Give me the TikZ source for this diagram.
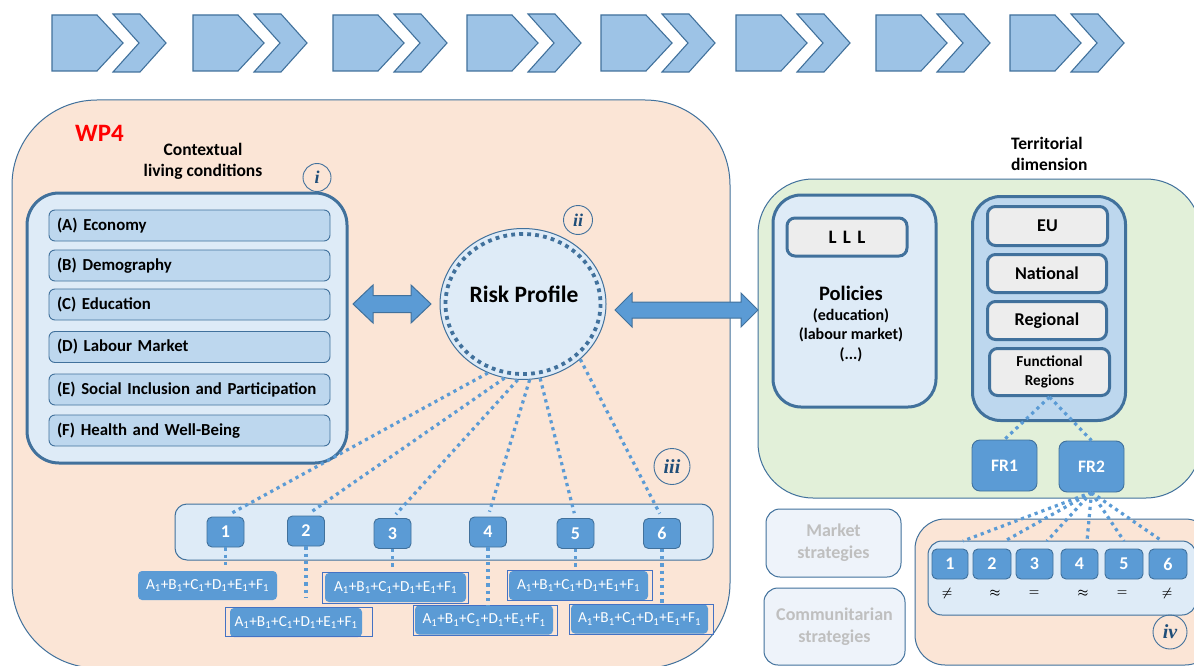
\documentclass[tikz,border=0pt]{standalone}
\usepackage{fontspec}
\setmainfont{Carlito}
\newfontfamily\numeralfont{Liberation Serif}
\usetikzlibrary{shapes.geometric,calc}
\definecolor{boxline}{HTML}{41719C}
\definecolor{chevfill}{HTML}{9DC3E6}
\definecolor{panelfill}{HTML}{DEEBF7}
\definecolor{itemfill}{HTML}{BDD7EE}
\definecolor{numfill}{HTML}{5B9BD5}
\definecolor{wpfill}{HTML}{FBE5D6}
\definecolor{greenfill}{HTML}{E2F0D9}
\definecolor{greyfill}{HTML}{EDEDED}
\definecolor{framecol}{HTML}{4472C4}
\definecolor{romantext}{HTML}{1F4E79}
\definecolor{ghosttext}{HTML}{BFBFBF}
\definecolor{ghostfill}{HTML}{EEF3FA}
\newcommand\sumterm{A\textsubscript{1}+B\textsubscript{1}+C\textsubscript{1}+D\textsubscript{1}+E\textsubscript{1}+F\textsubscript{1}}

\begin{document}
\begin{tikzpicture}[x=1pt, y=-1pt,
    chev/.style={fill=chevfill, draw=boxline, line width=1.1pt, line join=miter},
    area/.style={draw=boxline, line width=1pt},
    panel/.style={rectangle, draw=boxline, line width=3pt, fill=panelfill, rounded corners=30pt, inner sep=0},
    item/.style={rectangle, draw=boxline, line width=0.9pt, fill=itemfill, rounded corners=6pt,
        minimum height=31pt, text width=265pt, inner xsep=8pt, inner ysep=0, align=left,
        font=\bfseries\fontsize{16.8}{19}\selectfont},
    level/.style={rectangle, draw=boxline, line width=3pt, fill=greyfill, rounded corners=8pt, inner sep=0,
        align=center, font=\bfseries\fontsize{18}{20}\selectfont},
    numbox/.style={rectangle, draw=boxline, line width=0.9pt, fill=numfill, rounded corners=5pt,
        minimum width=37pt, minimum height=30pt, inner sep=0, text=white,
        font=\bfseries\fontsize{18}{20}\selectfont},
    formula/.style={rectangle, fill=numfill, rounded corners=4pt, minimum height=29pt, inner sep=0,
        text=white, font=\fontsize{15.3}{17}\selectfont},
    framebox/.style={draw=framecol, line width=0.9pt},
    roman/.style={circle, draw=boxline, line width=0.9pt, inner sep=0, text=romantext,
        font=\numeralfont\bfseries\itshape\fontsize{18}{18}\selectfont},
    ghost/.style={rectangle, draw=boxline, line width=1pt, fill=ghostfill, rounded corners=14pt, inner sep=0,
        text=ghosttext, align=center, font=\bfseries\fontsize{18}{22}\selectfont},
    heading/.style={inner sep=0, font=\bfseries\fontsize{17.5}{21}\selectfont},
    dotline/.style={draw=numfill, line width=3.2pt, dash pattern=on 3.2pt off 4pt},
    bigarrow/.style={fill=numfill, draw=boxline, line width=1pt, line join=miter}
]
\useasboundingbox (0,0) rectangle (1194,666);
\clip (0,0) rectangle (1194,666);
\fill[white] (0,0) rectangle (1194,666);

% Process chevrons
\foreach \x in {52,193,333,467,601,736,876,1010} {
    \draw[chev, shift={(\x,0)}] (0,15) -- (45,15) -- (71,43) -- (45,71) -- (0,71) -- cycle;
    \draw[chev, shift={(\x,0)}] (61,14) -- (88,14) -- (114,43) -- (88,72) -- (61,72) -- (87,43) -- cycle;
}

% Work package areas
\draw[area, fill=wpfill, rounded corners=85pt] (12,100) rectangle (730,668);
\draw[area, fill=greenfill, rounded corners=55pt] (758,179) rectangle (1201,498);
\draw[area, fill=wpfill, rounded corners=30pt] (915,519) rectangle (1215,665);

\node[anchor=west, inner sep=0, text=red, font=\bfseries\fontsize{25}{25}\selectfont] (wp) at (75,133) {WP4};
\node[heading, align=center] (ctxhead) at (203,161) {Contextual\\living conditions};
\node[heading, align=left, anchor=west] (terrhead) at (1011,153.5) {Territorial\\dimension};

% Contextual living conditions
\node[panel, minimum width=320pt, minimum height=270pt, rounded corners=32pt] (ctx) at (187,328) {};
\foreach \y/\t [count=\i] in {225.5/{(A) Economy}, 265.5/{(B) Demography}, 304.5/{(C) Education},
    347/{(D) Labour Market}, 389.5/{(E) Social Inclusion and Participation}, 430.5/{(F) Health and Well-Being}}
    \node[item] (it\i) at (189.5,\y) {\t};

% Risk profile
\node[ellipse, draw=boxline, line width=1pt, fill=panelfill, minimum width=166pt, minimum height=151pt,
    inner sep=0] (risk) at (523,304) {};
\draw[boxline, line width=3.8pt, dash pattern=on 3.8pt off 4.2pt] (risk.center) ellipse [x radius=77.5, y radius=70];
\node[font=\bfseries\fontsize{23.5}{26}\selectfont, inner sep=0] (risktxt) at (524,294) {Risk Profile};

% Double arrows
\draw[bigarrow] (353,304) -- (373,285) -- (373,295.5) -- (411,295.5) -- (411,285) -- (431,304)
    -- (411,323) -- (411,312.5) -- (373,312.5) -- (373,323) -- cycle;
\draw[bigarrow] (615,310) -- (632,293) -- (632,302) -- (741,302) -- (741,293) -- (758,310)
    -- (741,327) -- (741,318) -- (632,318) -- (632,327) -- cycle;

% Profiles
\node[rectangle, draw=boxline, line width=1pt, fill=panelfill, rounded corners=12pt,
    minimum width=538pt, minimum height=56pt] (strip) at (444,532) {};
\foreach \x/\y [count=\n] in {225.5/532, 306/531, 392.5/533.5, 488/532, 575.5/533.5, 662/533.5}
    \node[numbox] (b\n) at (\x,\y) {\n};
\foreach \a/\n in {-117/1,-104/2,-94/3,-85/4,-77/5,-44/6}
    \draw[dotline, shorten >=5pt] (risk.\a) -- (b\n.north);

\node[formula, minimum width=139pt] (f1) at (207.5,585.5) {\sumterm};
\node[formula, minimum width=132pt] (f2) at (296,622.5) {\sumterm};
\node[formula, minimum width=141pt] (f3) at (395.5,587.5) {\sumterm};
\node[formula, minimum width=138pt] (f4) at (484,620) {\sumterm};
\node[formula, minimum width=139pt] (f5) at (578.5,585.5) {\sumterm};
\node[formula, minimum width=137pt] (f6) at (639.5,619) {\sumterm};
\draw[framebox] (225,607) rectangle (372,636);
\draw[framebox] (322,572) rectangle (468,603);
\draw[framebox] (413,605) rectangle (557,635);
\draw[framebox] (507,570) rectangle (652,600);
\draw[framebox] (569,604) rectangle (713,634);
\foreach \n/\s in {1/3pt,2/10pt,3/3pt,4/0pt,5/3pt,6/1pt}
    \draw[dotline, shorten >=\s] (b\n.south) -- (b\n.south |- f\n.north);

% Policies
\node[panel, minimum width=163pt, minimum height=212pt, rounded corners=28pt] (pol) at (854.5,301) {};
\node[level, minimum width=120pt, minimum height=38pt, font=\bfseries\fontsize{19}{20}\selectfont] (lll) at (847,237) {L\,\,L\,\,L};
\node[align=center, inner sep=0, font=\bfseries\fontsize{16}{19.5}\selectfont] (poltxt) at (851,324)
    {{\fontsize{20.5}{22}\selectfont Policies}\\(education)\\(labour market)\\(...)};

% Territorial levels
\node[panel, fill=itemfill, minimum width=153pt, minimum height=224pt, rounded corners=28pt] (terr) at (1049,308.5) {};
\node[level, minimum width=120pt, minimum height=39pt] (eu) at (1047.5,226) {EU};
\node[level, minimum width=119pt, minimum height=38pt] (nat) at (1047,273.5) {National};
\node[level, minimum width=119pt, minimum height=38pt] (reg) at (1047,320.5) {Regional};
\node[level, minimum width=120pt, minimum height=47pt, font=\bfseries\fontsize{15.2}{19}\selectfont]
    (func) at (1049.5,372) {Functional\\Regions};
\node[numbox, minimum width=65pt, minimum height=51pt, rounded corners=8pt,
    font=\bfseries\fontsize{17.5}{18}\selectfont] (fr1) at (1004.5,465.5) {FR1\hspace{8pt}};
\node[numbox, minimum width=65pt, minimum height=51pt, rounded corners=8pt,
    font=\bfseries\fontsize{17.5}{18}\selectfont] (fr2) at (1091.5,466.5) {FR2\hspace{6pt}};
\draw[dotline] (func.south) -- (fr1.north);
\draw[dotline] (func.south) -- (fr2.north);

% Strategies
\node[ghost, minimum width=135pt, minimum height=68pt] (market) at (833.5,543) {Market\\strategies\hspace{10pt}};
\node[ghost, minimum width=141pt, minimum height=77pt] (comm) at (834.5,626.5) {Communitarian\\strategies};

% Regional comparison
\node[rectangle, draw=boxline, line width=1pt, fill=panelfill, rounded corners=14pt,
    minimum width=268pt, minimum height=74pt] (rstrip) at (1062,578) {};
\foreach \x/\w [count=\n] in {950/36, 992/38, 1034.5/37, 1079.5/37, 1124/38, 1168/38}
    \node[numbox, minimum width=\w pt] (s\n) at (\x,564) {\n};
\foreach \x/\s [count=\n] in {947/\neq, 995/\approx, 1034/=, 1083/\approx, 1122/=, 1167/\neq}
    \node[inner sep=0, font=\fontsize{13}{13}\selectfont\boldmath] (q\n) at (\x,593) {$\s$};
\foreach \x [count=\n] in {963,1005,1047,1087,1124,1162}
    \coordinate (t\n) at (\x,541);
\foreach \n in {1,...,6}
    \draw[dotline] (fr2.south) -- (t\n);

% Steps
\node[roman, minimum size=28pt] (r1) at (317,177.5) {i};
\node[roman, minimum size=29pt] (r2) at (578,220) {ii};
\node[roman, minimum size=36pt, font=\numeralfont\bfseries\itshape\fontsize{20}{20}\selectfont] (r3) at (672,466.5) {iii};
\node[roman, minimum size=34pt, font=\numeralfont\bfseries\itshape\fontsize{20}{20}\selectfont] (r4) at (1170,632) {iv};
\end{tikzpicture}
\end{document}
